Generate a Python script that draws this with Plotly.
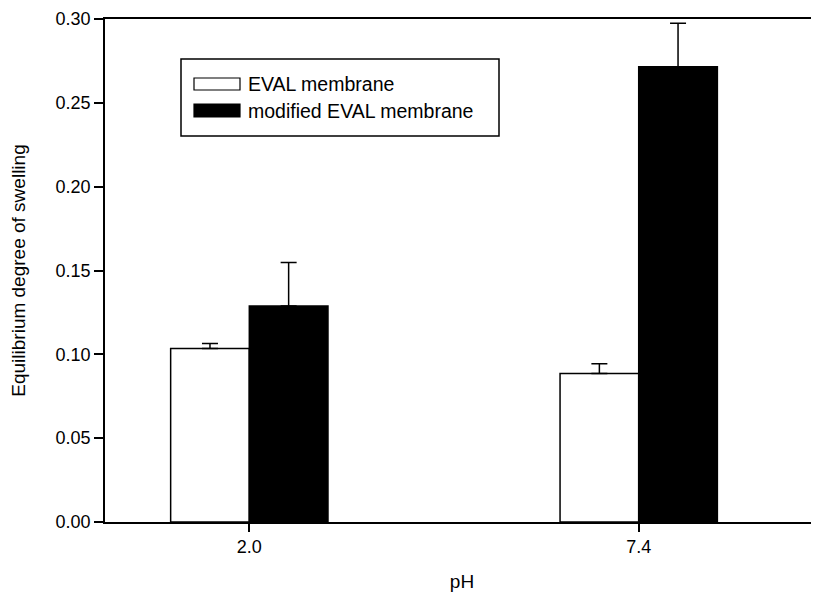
import plotly.graph_objects as go

categories = ["2.0", "7.4"]
x_pos = [0, 1]
eval_values = [0.1035, 0.0886]
eval_errors = [0.0029, 0.0058]
mod_values = [0.1288, 0.2715]
mod_errors = [0.0260, 0.0260]
series_names = ["EVAL membrane", "modified EVAL membrane"]
y_ticks = [0.00, 0.05, 0.10, 0.15, 0.20, 0.25, 0.30]

OFF = 8  # page body margin
W, H = 819 - OFF, 595 - OFF
ML, MR, MT, MB = 105 - OFF, 0, 19 - OFF, 73
BW = 0.202
FONT = "Liberation Sans, Arial, sans-serif"

fig = go.Figure()
fig.add_trace(go.Bar(
    x=x_pos, y=eval_values, width=BW, offset=-BW, name=series_names[0],
    marker=dict(color="white", line=dict(color="black", width=1.5)),
    error_y=dict(type="data", array=eval_errors, arrayminus=[0, 0], symmetric=False,
                 color="black", thickness=1.5, width=8),
    showlegend=False,
))
fig.add_trace(go.Bar(
    x=x_pos, y=mod_values, width=BW, offset=0, name=series_names[1],
    marker=dict(color="black", line=dict(color="black", width=1.5)),
    error_y=dict(type="data", array=mod_errors, arrayminus=[0, 0], symmetric=False,
                 color="black", thickness=1.5, width=8),
    showlegend=False,
))

pw, ph = W - ML - MR, H - MT - MB
def px(x):
    return (x - OFF - ML) / pw
def py(y):
    return (H + OFF - MB - y) / ph

shapes = [
    dict(type="rect", xref="paper", yref="paper", x0=px(181), x1=px(499), y0=py(136), y1=py(59),
         line=dict(color="black", width=1.5), fillcolor="white"),
    dict(type="rect", xref="paper", yref="paper", x0=px(194), x1=px(240), y0=py(90), y1=py(78),
         line=dict(color="black", width=1.2), fillcolor="white"),
    dict(type="rect", xref="paper", yref="paper", x0=px(194), x1=px(240), y0=py(117), y1=py(104),
         line=dict(color="black", width=1.2), fillcolor="black"),
]
annotations = [
    dict(xref="paper", yref="paper", x=px(246), y=py(84), text=series_names[0], showarrow=False,
         xanchor="left", yanchor="middle", font=dict(family=FONT, size=19.5, color="black")),
    dict(xref="paper", yref="paper", x=px(246), y=py(110.5), text=series_names[1], showarrow=False,
         xanchor="left", yanchor="middle", font=dict(family=FONT, size=19.5, color="black")),
]

fig.update_layout(
    width=W, height=H, margin=dict(l=ML, r=MR, t=MT, b=MB, autoexpand=False),
    paper_bgcolor="white", plot_bgcolor="white",
    barmode="overlay",
    font=dict(family=FONT, size=18, color="black"),
    shapes=shapes, annotations=annotations,
    xaxis=dict(
        range=[-0.3706, 1.463], tickmode="array", tickvals=x_pos, ticktext=categories,
        showline=True, linecolor="black", linewidth=1.5, mirror=True,
        ticks="outside", ticklen=8, tickwidth=1.5, tickcolor="black",
        showgrid=False, zeroline=False, automargin=False,
        title=dict(text="pH", font=dict(size=19), standoff=18),
    ),
    yaxis=dict(
        range=[0, 0.30], tickmode="array", tickvals=y_ticks,
        ticktext=[f"{v:.2f}" for v in y_ticks],
        showline=True, linecolor="black", linewidth=1.5, mirror=False,
        ticks="outside", ticklen=9, tickwidth=1.5, tickcolor="black",
        showgrid=False, zeroline=False, automargin=False,
        title=dict(text="Equilibrium degree of swelling", font=dict(size=19), standoff=25),
    ),
)

fig.write_html("out.html")
